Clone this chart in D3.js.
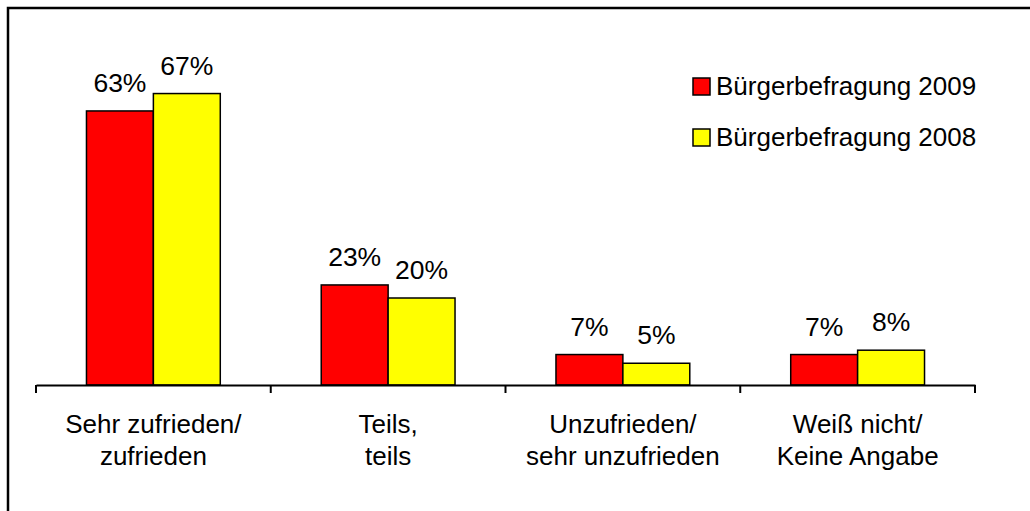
<!DOCTYPE html>
<html>
<head>
<meta charset="utf-8">
<script src="https://cdn.jsdelivr.net/npm/d3@7"></script>
<style>
  html, body { margin: 0; padding: 0; background: #fff; }
  svg { display: block; }
  text { font-family: "Liberation Sans", Arial, sans-serif; fill: #000; }
</style>
</head>
<body>
<svg id="chart" width="1030" height="511"></svg>
<script>
// Survey answers, two survey years
const categories = [
  ["Sehr zufrieden/", "zufrieden"],
  ["Teils,", "teils"],
  ["Unzufrieden/", "sehr unzufrieden"],
  ["Weiß nicht/", "Keine Angabe"]
];
const seriesNames = ["Bürgerbefragung 2009", "Bürgerbefragung 2008"];
const values2009 = [63, 23, 7, 7];
const values2008 = [67, 20, 5, 8];
const seriesColors = ["#ff0000", "#ffff00"];

const svg = d3.select("#chart");
const W = 1030, H = 511;

// Outer frame (top and left edges visible)
svg.append("path")
  .attr("d", `M8,${H} L8,8 L${W},8`)
  .attr("fill", "none")
  .attr("stroke", "#000")
  .attr("stroke-width", 2.5);

const plot = { left: 36, right: 975, bottom: 385 };

const keys = categories.map((c, i) => i);
const x0 = d3.scaleBand().domain(keys).range([plot.left, plot.right]).padding(0);
const slot = x0.bandwidth();
const x1 = d3.scaleBand().domain([0, 1]).range([slot * 0.215, slot * 0.785]).padding(0);
const y = d3.scaleLinear().domain([0, 80]).range([plot.bottom, plot.bottom - 348]);

const seriesValues = [values2009, values2008];

const groups = svg.append("g").selectAll("g")
  .data(keys)
  .join("g")
  .attr("transform", d => `translate(${x0(d)},0)`);

groups.selectAll("rect")
  .data(d => seriesValues.map((vals, s) => ({ s, v: vals[d] })))
  .join("rect")
  .attr("x", d => x1(d.s))
  .attr("y", d => y(d.v))
  .attr("width", x1.bandwidth())
  .attr("height", d => y(0) - y(d.v))
  .attr("fill", d => seriesColors[d.s])
  .attr("stroke", "#000")
  .attr("stroke-width", 1.5);

groups.selectAll("text.val")
  .data(d => seriesValues.map((vals, s) => ({ s, v: vals[d] })))
  .join("text")
  .attr("class", "val")
  .attr("x", d => x1(d.s) + x1.bandwidth() / 2)
  .attr("y", d => y(d.v) - 19)
  .attr("text-anchor", "middle")
  .style("font-size", "26.5px")
  .text(d => d.v + "%");

// Category axis
const axis = d3.axisBottom(x0)
  .tickValues([])
  .tickSizeOuter(0);
const axisG = svg.append("g")
  .attr("transform", `translate(0,${plot.bottom})`)
  .call(axis);
axisG.select(".domain").attr("stroke", "#000").attr("stroke-width", 2);

// Ticks on category boundaries
const boundaries = keys.map(k => x0(k)).concat([x0(keys[keys.length - 1]) + slot]);
axisG.selectAll("line.sep")
  .data(boundaries)
  .join("line")
  .attr("class", "sep")
  .attr("x1", d => d).attr("x2", d => d)
  .attr("y1", 0).attr("y2", 8)
  .attr("stroke", "#000")
  .attr("stroke-width", 2);

const labels = svg.append("g").selectAll("text")
  .data(keys)
  .join("text")
  .attr("text-anchor", "middle")
  .style("font-size", "26px")
  .attr("x", d => x0(d) + slot / 2);
labels.each(function(d) {
  const t = d3.select(this);
  categories[d].forEach((line, i) => {
    t.append("tspan")
      .attr("x", x0(d) + slot / 2)
      .attr("y", 433 + i * 32)
      .text(line);
  });
});

// Legend
const legend = svg.append("g").attr("transform", "translate(693,78)");
seriesNames.forEach((name, i) => {
  const g = legend.append("g").attr("transform", `translate(0,${i * 51})`);
  g.append("rect")
    .attr("width", 17).attr("height", 17)
    .attr("fill", seriesColors[i])
    .attr("stroke", "#000").attr("stroke-width", 1.5);
  g.append("text")
    .attr("x", 23).attr("y", 17)
    .style("font-size", "26px")
    .text(name);
});
</script>
</body>
</html>
